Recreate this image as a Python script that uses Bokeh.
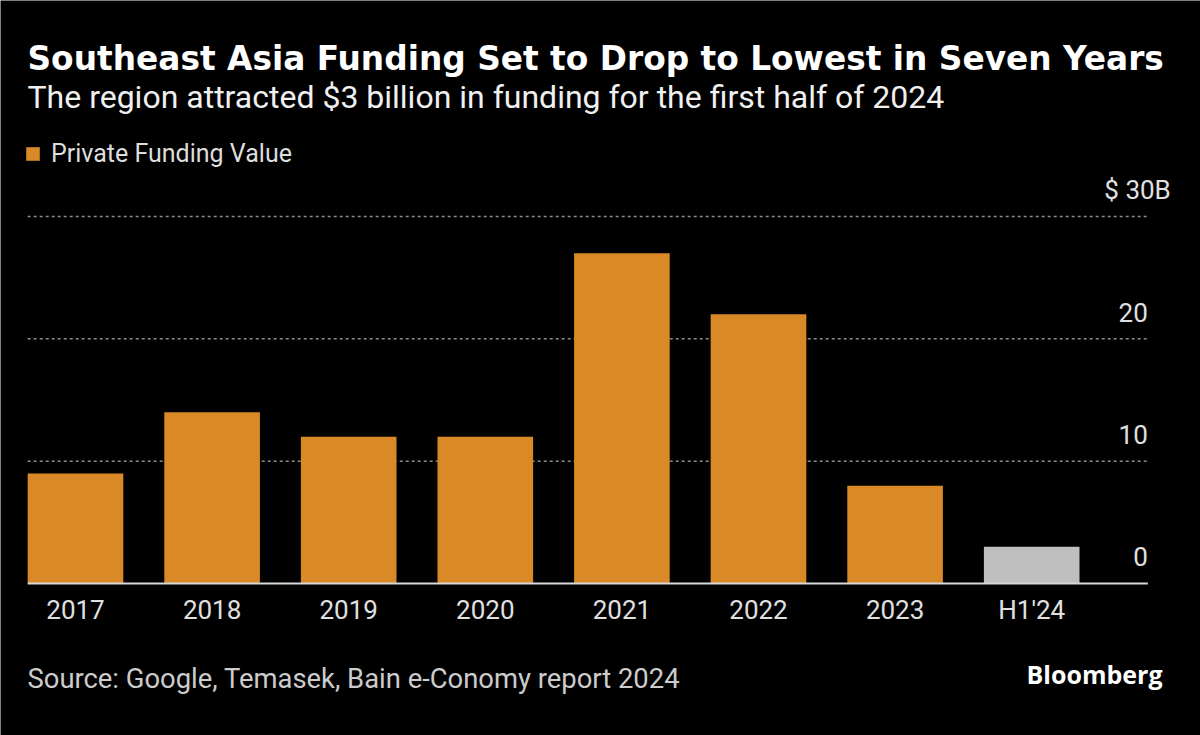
from bokeh.plotting import figure
from bokeh.models import Range1d, Label, ColumnDataSource, Legend, LegendItem
from bokeh.core.properties import value
from bokeh.embed import file_html
from bokeh.resources import INLINE

# ---- data ----
categories = ["2017", "2018", "2019", "2020", "2021", "2022", "2023", "H1'24"]
funding = [9, 14, 12, 12, 27, 22, 8, 3]
is_partial = [False, False, False, False, False, False, False, True]
y_ticks = [0, 10, 20, 30]
y_tick_labels = ["0", "10", "20", "$ 30B"]

title = "Southeast Asia Funding Set to Drop to Lowest in Seven Years"
subtitle = "The region attracted $3 billion in funding for the first half of 2024"
legend_label = "Private Funding Value"
source_text = "Source: Google, Temasek, Bain e-Conomy report 2024"

ORANGE = "#D98A26"
GREY = "#BFBFBF"
FONT = "Roboto"
TITLE_FONT = "DejaVu Sans"

W, H = 1200, 735
# layout: category spacing / value scale in pixels
x_px0, x_step = 75.0, 136.6
y_px0, y_step = 583.0, 12.233
x0 = -x_px0 / x_step
x1 = x0 + W / x_step
y1 = y_px0 / y_step
y0 = y1 - H / y_step
plot_left, plot_right = -0.35, 7.85
BL = 0.37  # baseline correction (em) observed for svg text

p = figure(width=W, height=H, output_backend="svg", toolbar_location=None,
           x_range=Range1d(x0, x1), y_range=Range1d(y0, y1),
           x_axis_type=None, y_axis_type=None, min_border=0,
           background_fill_color="black", border_fill_color="black",
           outline_line_color=None)
p.grid.visible = False

xs = list(range(len(categories)))
full = ColumnDataSource(dict(x=[x for x, f in zip(xs, is_partial) if not f],
                             top=[v for v, f in zip(funding, is_partial) if not f]))
part = ColumnDataSource(dict(x=[x for x, f in zip(xs, is_partial) if f],
                             top=[v for v, f in zip(funding, is_partial) if f]))

# gridlines
grid_src = ColumnDataSource(dict(y=y_ticks[1:], x0=[plot_left] * 3, x1=[plot_right] * 3))
p.segment(x0="x0", x1="x1", y0="y", y1="y", source=grid_src,
          line_color="#8a8a8a", line_width=1.5, line_dash="3 3")

r_full = p.vbar(x="x", top="top", width=0.7, bottom=0, source=full,
                fill_color=ORANGE, line_color=None)
p.vbar(x="x", top="top", width=0.7, bottom=0, source=part,
       fill_color=GREY, line_color=None)

# baseline
p.segment(x0=[plot_left], x1=[plot_right], y0=[0], y1=[0], line_color="#d9d9d9", line_width=2)

# x labels
p.text(x=xs, y=[0] * len(xs), text=categories, text_align="center",
       text_baseline="alphabetic", y_offset=36 - BL * 26, text_color="#e0e0e0",
       text_font=value(FONT), text_font_size="26px")

# y labels
p.text(x=[plot_right] * 4, y=y_ticks, text=y_tick_labels, text_align="right",
       text_baseline="alphabetic", y_offset=-17 - BL * 26, x_offset=[0, 0, 0, 23],
       text_color="#e0e0e0", text_font=value(FONT), text_font_size="26px")

# legend
legend = Legend(items=[LegendItem(label=legend_label, renderers=[r_full])],
                location=(24, 567), orientation="horizontal",
                glyph_width=17, glyph_height=17, label_standoff=10,
                label_text_font=FONT, label_text_font_size="25px",
                label_text_color="#dddddd", background_fill_alpha=0,
                border_line_color=None, padding=0, margin=0)
p.add_layout(legend, "center")

def add_label(text, x, y_base, size, color, style="normal", align="left", font=FONT):
    p.add_layout(Label(x=x, y=H - y_base + BL * size, x_units="screen", y_units="screen",
                       text=text, text_font=font, text_font_size=f"{size}px",
                       text_color=color, text_font_style=style, text_align=align,
                       text_baseline="alphabetic"))

add_label(title, 27, 71, 32.8, "white", "bold", font=TITLE_FONT)
add_label(subtitle, 27, 108, 32, "#f0f0f0")
add_label(source_text, 27, 689, 27.4, "#cccccc")
add_label("Bloomberg", 1162, 683, 25, "white", "bold", "right", font="Open Sans")

open("out.html", "w").write(file_html(p, INLINE))
